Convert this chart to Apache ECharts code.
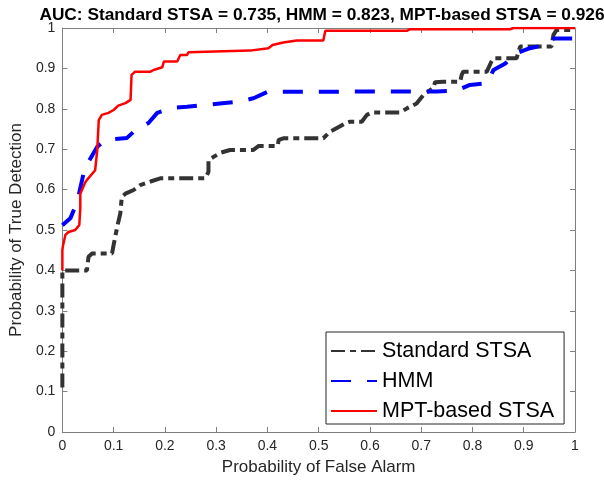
<!DOCTYPE html>
<html><head><meta charset="utf-8">
<script src="https://cdn.jsdelivr.net/npm/echarts@6/dist/echarts.min.js"></script>
<style>html,body{margin:0;padding:0;background:#fff}#c{width:604px;height:485px}</style>
</head><body><div id="c"></div>
<script>
var titleText = "AUC: Standard STSA = 0.735, HMM = 0.823, MPT-based STSA = 0.926";
var seriesNames = ["Standard STSA", "HMM", "MPT-based STSA"];
var xTickValues = [0,0.1,0.2,0.3,0.4,0.5,0.6,0.7,0.8,0.9,1];

var stdX = [0, 0, 0.048, 0.051, 0.058, 0.097, 0.1, 0.107, 0.113, 0.116, 0.123, 0.139, 0.152, 0.172, 0.191, 0.279, 0.285, 0.285, 0.295, 0.308, 0.327, 0.372, 0.383, 0.42, 0.422, 0.431, 0.509, 0.522, 0.552, 0.561, 0.584, 0.594, 0.604, 0.659, 0.672, 0.691, 0.704, 0.724, 0.727, 0.743, 0.776, 0.779, 0.782, 0.828, 0.837, 0.841, 0.886, 0.893, 0.954, 0.958, 0.964, 1];
var stdY = [0.11, 0.40, 0.40, 0.434, 0.442, 0.442, 0.463, 0.508, 0.541, 0.582, 0.59, 0.599, 0.611, 0.62, 0.628, 0.628, 0.644, 0.673, 0.681, 0.691, 0.698, 0.698, 0.708, 0.708, 0.723, 0.727, 0.727, 0.743, 0.764, 0.768, 0.768, 0.785, 0.791, 0.791, 0.801, 0.813, 0.834, 0.852, 0.866, 0.867, 0.867, 0.884, 0.892, 0.892, 0.917, 0.925, 0.925, 0.954, 0.954, 0.983, 0.995, 0.995];

var hmmX = [0, 0.016, 0.029, 0.032, 0.042, 0.051, 0.068, 0.084, 0.126, 0.139, 0.168, 0.185, 0.214, 0.243, 0.282, 0.312, 0.347, 0.372, 0.376, 0.40, 0.73, 0.769, 0.795, 0.828, 0.841, 0.864, 0.886, 0.912, 0.942, 0.958, 0.964, 1];
var hmmY = [0.512, 0.53, 0.57, 0.574, 0.644, 0.669, 0.706, 0.723, 0.728, 0.743, 0.765, 0.79, 0.802, 0.805, 0.81, 0.814, 0.818, 0.826, 0.828, 0.842, 0.843, 0.845, 0.859, 0.863, 0.896, 0.912, 0.938, 0.95, 0.958, 0.974, 0.974, 0.974];

var mptX = [0, 0, 0.001, 0.006, 0.012, 0.025, 0.033, 0.035, 0.035, 0.045, 0.048, 0.064, 0.068, 0.071, 0.077, 0.09, 0.1, 0.109, 0.123, 0.133, 0.135, 0.142, 0.172, 0.178, 0.195, 0.198, 0.224, 0.23, 0.243, 0.246, 0.366, 0.402, 0.41, 0.431, 0.457, 0.509, 0.513, 0.672, 0.678, 0.873, 0.88, 1];
var mptY = [0.40, 0.45, 0.46, 0.488, 0.495, 0.50, 0.512, 0.554, 0.59, 0.619, 0.624, 0.648, 0.698, 0.772, 0.785, 0.79, 0.797, 0.808, 0.814, 0.822, 0.884, 0.892, 0.892, 0.896, 0.903, 0.917, 0.917, 0.933, 0.933, 0.94, 0.944, 0.95, 0.958, 0.964, 0.969, 0.969, 0.993, 0.993, 0.997, 0.997, 1, 1];

function zip(a, b) { return a.map(function (v, i) { return [v, b[i]]; }); }
function fmt(v) { return String(Math.round(v * 10) / 10); }

var FONT = "Liberation Sans, Arial, Helvetica, sans-serif";
var axisCol = "#7f7f7f";
var labCol = "#262626";

function mkX(pos, show) {
  return {
    type: "value", position: pos, min: 0, max: 1, interval: 0.1,
    axisLine: { show: true, onZero: false, lineStyle: { color: axisCol, width: 1 } },
    axisTick: { show: true, inside: true, length: 5, lineStyle: { color: axisCol } },
    axisLabel: { show: show, formatter: fmt, color: labCol, fontSize: 14, fontFamily: FONT, margin: 7 },
    splitLine: { show: false },
    name: show ? "Probability of False Alarm" : "",
    nameLocation: "middle", nameGap: 27,
    nameTextStyle: { color: labCol, fontSize: 17, fontFamily: FONT }
  };
}
function mkY(pos, show) {
  return {
    type: "value", position: pos, min: 0, max: 1, interval: 0.1,
    axisLine: { show: true, onZero: false, lineStyle: { color: axisCol, width: 1 } },
    axisTick: { show: true, inside: true, length: 5, lineStyle: { color: axisCol } },
    axisLabel: { show: show, formatter: fmt, color: labCol, fontSize: 14, fontFamily: FONT, margin: 7 },
    splitLine: { show: false },
    name: show ? "Probability of True Detection" : "",
    nameLocation: "middle", nameGap: 33,
    nameTextStyle: { color: labCol, fontSize: 17, fontFamily: FONT }
  };
}

var chart = echarts.init(document.getElementById("c"), null, { renderer: "canvas" });
chart.setOption({
  animation: false,
  backgroundColor: "#ffffff",
  title: {
    text: titleText, left: 317, textAlign: "center", top: 2,
    textStyle: { fontSize: 17.3, fontWeight: "bold", color: "#000", fontFamily: FONT }
  },
  grid: { left: 62, right: 29, top: 28, bottom: 53, containLabel: false },
  xAxis: [mkX("bottom", true), mkX("top", false)],
  yAxis: [mkY("left", true), mkY("right", false)],
  legend: {
    orient: "vertical", left: 326, top: 332,
    backgroundColor: "#fff", borderColor: "#262626", borderWidth: 1,
    padding: [8, 10, 2, 4], itemGap: 8, itemWidth: 46, itemHeight: 20,
    itemStyle: { opacity: 0 },
    textStyle: { fontSize: 21.5, color: "#000", fontFamily: FONT },
    data: seriesNames
  },
  series: [
    { name: seriesNames[0], type: "line", data: zip(stdX, stdY), symbol: "none", color: "#333333",
      lineStyle: { color: "#333333", width: 4, type: [14, 5, 6, 5] } },
    { name: seriesNames[1], type: "line", data: zip(hmmX, hmmY), symbol: "none", color: "#0000ff",
      lineStyle: { color: "#0000ff", width: 4, type: [20, 16] } },
    { name: seriesNames[2], type: "line", data: zip(mptX, mptY), symbol: "none", color: "#ff0000",
      lineStyle: { color: "#ff0000", width: 2.5, type: "solid" } }
  ]
});
</script></body></html>
